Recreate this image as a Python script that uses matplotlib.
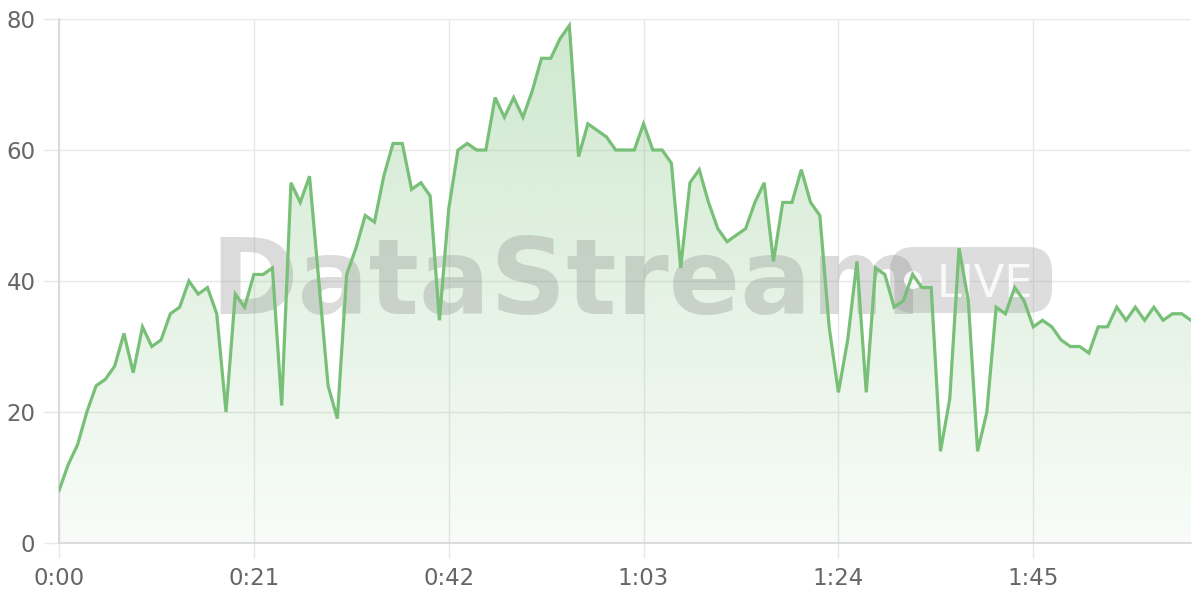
import numpy as np
import matplotlib
matplotlib.use('Agg')
import matplotlib.pyplot as plt
from matplotlib.patches import FancyBboxPatch, Circle
from matplotlib.transforms import IdentityTransform
from matplotlib.colors import to_rgb

# ---- data (one value per second) ----
values = [8, 12, 15, 20, 24, 25, 27, 32, 26, 33, 30, 31, 35, 36, 40, 38, 39, 35, 20, 38,
          36, 41, 41, 42, 21, 55, 52, 56, 40, 24, 19, 41, 45, 50, 49, 56, 61, 61, 54, 55,
          53, 34, 51, 60, 61, 60, 60, 68, 65, 68, 65, 69, 74, 74, 77, 79, 59, 64, 63, 62,
          60, 60, 60, 64, 60, 60, 58, 42, 55, 57, 52, 48, 46, 47, 48, 52, 55, 43, 52, 52,
          57, 52, 50, 33, 23, 31, 43, 23, 42, 41, 36, 37, 41, 39, 39, 14, 22, 45, 37, 14,
          20, 36, 35, 39, 37, 33, 34, 33, 31, 30, 30, 29, 33, 33, 36, 34, 36, 34, 36, 34,
          35, 35, 34]
tick_seconds = [0, 21, 42, 63, 84, 105]
tick_labels = ['0:00', '0:21', '0:42', '1:03', '1:24', '1:45']
y_ticks = [0, 20, 40, 60, 80]

line_color = '#78bf78'
grid_color = '#e8e8e8'

fig = plt.figure(figsize=(12, 6), dpi=100)
ax = fig.add_axes([59 / 1200, 57 / 600, (1191 - 59) / 1200, 524 / 600])

x = np.arange(len(values))
xmax = len(values) - 1

# gradient fill under curve
poly = ax.fill_between(x, values, 0, color='none', lw=0)
rgb = to_rgb(line_color)
grad = np.zeros((256, 1, 4))
grad[:, 0, :3] = rgb
grad[:, 0, 3] = np.linspace(0.05, 0.36, 256)
im = ax.imshow(grad, extent=[0, xmax, 0, 80], origin='lower', aspect='auto',
               zorder=1, interpolation='bilinear')
im.set_clip_path(poly.get_paths()[0], transform=ax.transData)

# watermark (between fill and line)
ax.text(210 / 1200, 1 - 314 / 600, 'DataStream', transform=fig.transFigure,
        fontsize=76, fontweight='bold', color='#888888', alpha=0.30,
        ha='left', va='baseline', zorder=1.5, clip_on=False)
badge = FancyBboxPatch((890, 287), 162, 66, boxstyle='round,pad=0,rounding_size=24',
                       transform=IdentityTransform(), facecolor='#888888', alpha=0.28,
                       edgecolor='none', zorder=1.6, clip_on=False)
ax.add_patch(badge)
ax.add_patch(Circle((913, 320), 9, transform=IdentityTransform(), facecolor='white',
                    alpha=0.85, edgecolor='none', zorder=1.7, clip_on=False))
ax.text(937, 303, 'LIVE', transform=IdentityTransform(), fontsize=32, color='white',
        alpha=0.85, ha='left', va='baseline', zorder=1.7, clip_on=False)

# line
ax.plot(x, values, color=line_color, lw=2.3, solid_joinstyle='miter', zorder=3)

ax.set_xlim(0, xmax)
ax.set_ylim(0, 80)
ax.set_xticks(tick_seconds)
ax.set_xticklabels(tick_labels)
ax.set_yticks(y_ticks)

ax.grid(True, color=grid_color, lw=1)
ax.set_axisbelow(True)
for s in ['top', 'right']:
    ax.spines[s].set_visible(False)
for s in ['left', 'bottom']:
    ax.spines[s].set_color('#d6d6d6')
    ax.spines[s].set_linewidth(1.2)
ax.tick_params(axis='both', length=11, width=1, color=grid_color,
               labelcolor='#666666', labelsize=16.5)
ax.tick_params(axis='y', pad=6)
ax.tick_params(axis='x', pad=6)

fig.savefig('out.png', dpi=100)
